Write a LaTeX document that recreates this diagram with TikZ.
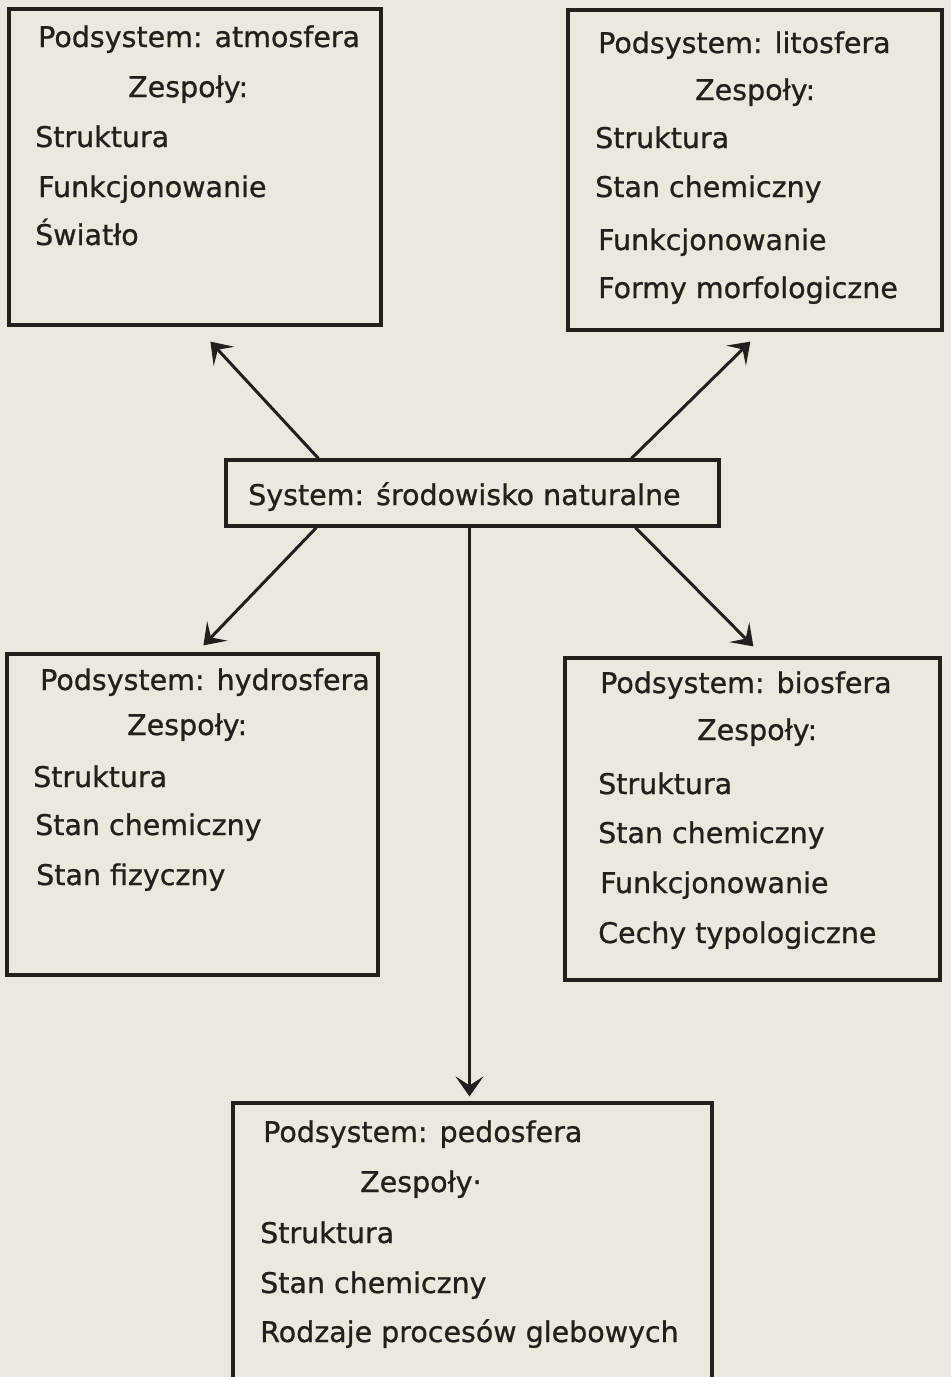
\documentclass[tikz,border=0pt]{standalone}
\usepackage{fontspec}
\setmainfont[FakeBold=0.8]{DejaVu Sans}
\usetikzlibrary{arrows.meta}
\definecolor{paper}{RGB}{236,232,221}
\definecolor{ink}{RGB}{34,31,28}
\begin{document}
\begin{tikzpicture}[x=1pt,y=-1pt,
  box/.style={draw=ink, line width=3.2pt, rectangle, inner sep=0pt},
  lbl/.style={anchor=base west, inner sep=0pt, text=ink, font=\fontsize{28.5}{34}\selectfont},
  arr/.style={draw=ink, line width=3pt, -{Stealth[length=20pt,width=28pt,inset=9pt]}}]
\fill[paper] (0,0) rectangle (951,1377);
\useasboundingbox (0,0) rectangle (951,1377);

% boxes
\node[box, minimum width=372pt, minimum height=316pt] (atm) at (195,167) {};
\node[box, minimum width=374pt, minimum height=320pt] (lit) at (755,170) {};
\node[box, minimum width=493pt, minimum height=66pt] (sys) at (472.5,493) {};
\node[box, minimum width=371pt, minimum height=321pt] (hyd) at (192.5,814.5) {};
\node[box, minimum width=375pt, minimum height=322pt] (bio) at (752.5,819) {};
\node[box, minimum width=479pt, minimum height=287pt] (ped) at (472.5,1246.5) {};

% atmosfera
\node[lbl] (atm1) at (38,47) {Podsystem: atmosfera};
\node[lbl] (atm2) at (128,97) {Zespoły:};
\node[lbl] (atm3) at (35,147) {Struktura};
\node[lbl] (atm4) at (38,197) {Funkcjonowanie};
\node[lbl] (atm5) at (35,245) {Światło};

% litosfera
\node[lbl] (lit1) at (598,53) {Podsystem: litosfera};
\node[lbl] (lit2) at (695,100) {Zespoły:};
\node[lbl] (lit3) at (595,148) {Struktura};
\node[lbl] (lit4) at (595,197) {Stan chemiczny};
\node[lbl] (lit5) at (598,250) {Funkcjonowanie};
\node[lbl] (lit6) at (598,298) {Formy morfologiczne};

% system
\node[lbl] (sys1) at (248,505) {System: środowisko naturalne};

% hydrosfera
\node[lbl] (hyd1) at (40,690) {Podsystem: hydrosfera};
\node[lbl] (hyd2) at (127,735) {Zespoły:};
\node[lbl] (hyd3) at (33,787) {Struktura};
\node[lbl] (hyd4) at (35,835) {Stan chemiczny};
\node[lbl] (hyd5) at (36,885) {Stan fizyczny};

% biosfera
\node[lbl] (bio1) at (600,693) {Podsystem: biosfera};
\node[lbl] (bio2) at (697,740) {Zespoły:};
\node[lbl] (bio3) at (598,794) {Struktura};
\node[lbl] (bio4) at (598,843) {Stan chemiczny};
\node[lbl] (bio5) at (600,893) {Funkcjonowanie};
\node[lbl] (bio6) at (598,943) {Cechy typologiczne};

% pedosfera
\node[lbl] (ped1) at (263,1142) {Podsystem: pedosfera};
\node[lbl] (ped2) at (360,1192) {Zespoły·};
\node[lbl] (ped3) at (260,1243) {Struktura};
\node[lbl] (ped4) at (260,1293) {Stan chemiczny};
\node[lbl] (ped5) at (260,1342) {Rodzaje procesów glebowych};

% arrows
\draw[arr] ([xshift=94pt]sys.north west) -- ([xshift=203pt,yshift=-15pt]atm.south west);
\draw[arr] ([xshift=407pt]sys.north west) -- ([xshift=184pt,yshift=-10pt]lit.south west);
\draw[arr] ([xshift=92pt]sys.south west) -- ([xshift=198pt,yshift=7pt]hyd.north west);
\draw[arr] ([xshift=411pt]sys.south west) -- ([xshift=190pt,yshift=10pt]bio.north west);
\draw[arr] ([xshift=-3pt]sys.south) -- ([xshift=-3pt,yshift=5pt]ped.north);
\end{tikzpicture}
\end{document}
